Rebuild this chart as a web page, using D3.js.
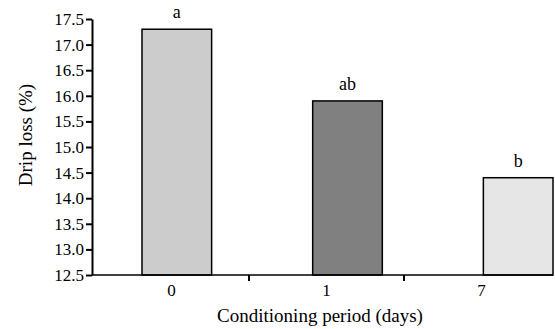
<!DOCTYPE html>
<html>
<head>
<meta charset="utf-8">
<script src="https://cdn.jsdelivr.net/npm/d3@7"></script>
<style>
  body { margin: 0; background: #fff; }
  svg text { font-family: "Liberation Serif", "Times New Roman", serif; fill: #000; }
</style>
</head>
<body>
<div id="chart"></div>
<script>
// chart data
const periods = ["0", "1", "7"];
const dripLoss = [17.3, 15.9, 14.4];
const letters = ["a", "ab", "b"];
const barColors = ["#cccccc", "#808080", "#e6e6e6"];
const yTicks = [12.5, 13.0, 13.5, 14.0, 14.5, 15.0, 15.5, 16.0, 16.5, 17.0, 17.5];

const width = 555, height = 329;
const plotLeft = 92, plotTop = 19, plotBottom = 275;

const svg = d3.select("#chart").append("svg")
  .attr("width", width)
  .attr("height", height);

const y = d3.scaleLinear()
  .domain([12.5, 17.5])
  .range([plotBottom, plotTop]);

// bars sit on their own band scale, axis labels/ticks on another
const xBar = d3.scaleBand()
  .domain(periods)
  .range([142, 553])
  .paddingInner(0.592)
  .paddingOuter(0);

const xAxisScale = d3.scaleBand()
  .domain(periods)
  .range([94, 559]);

// bars
svg.append("g")
  .selectAll("rect")
  .data(periods)
  .enter().append("rect")
    .attr("x", d => xBar(d))
    .attr("y", (d, i) => y(dripLoss[i]))
    .attr("width", xBar.bandwidth())
    .attr("height", (d, i) => plotBottom - y(dripLoss[i]))
    .attr("fill", (d, i) => barColors[i])
    .attr("stroke", "#000")
    .attr("stroke-width", 1.5);

// significance letters
svg.append("g")
  .selectAll("text")
  .data(periods)
  .enter().append("text")
    .attr("x", d => xBar(d) + xBar.bandwidth() / 2)
    .attr("y", (d, i) => y(dripLoss[i]) - 11)
    .attr("text-anchor", "middle")
    .style("font-size", "18px")
    .text((d, i) => letters[i]);

// y axis
const yAxis = svg.append("g")
  .attr("transform", "translate(" + plotLeft + ",0)")
  .call(d3.axisLeft(y).tickValues(yTicks).tickFormat(d3.format(".1f")).tickSize(6).tickSizeOuter(0).tickPadding(2));
yAxis.select(".domain").attr("stroke-width", 2);
yAxis.selectAll(".tick line").attr("stroke-width", 2);
yAxis.selectAll(".tick text").style("font-size", "17px").style("font-family", "Liberation Serif");

// x axis: baseline, tick marks between categories, labels
svg.append("line")
  .attr("x1", plotLeft).attr("x2", 553)
  .attr("y1", plotBottom).attr("y2", plotBottom)
  .attr("stroke", "#000").attr("stroke-width", 1.5);

svg.append("g")
  .selectAll("line")
  .data(periods.slice(1))
  .enter().append("line")
    .attr("x1", d => xAxisScale(d)).attr("x2", d => xAxisScale(d))
    .attr("y1", plotBottom).attr("y2", plotBottom + 6)
    .attr("stroke", "#000").attr("stroke-width", 2);

svg.append("g")
  .selectAll("text")
  .data(periods)
  .enter().append("text")
    .attr("x", d => xAxisScale(d) + xAxisScale.bandwidth() / 2)
    .attr("y", plotBottom + 21)
    .attr("text-anchor", "middle")
    .style("font-size", "17px")
    .text(d => d);

// axis titles
svg.append("text")
  .attr("x", 320)
  .attr("y", 322)
  .attr("text-anchor", "middle")
  .style("font-size", "19px")
  .text("Conditioning period (days)");

svg.append("text")
  .attr("transform", "translate(32,135) rotate(-90)")
  .attr("text-anchor", "middle")
  .style("font-size", "19px")
  .text("Drip loss (%)");
</script>
</body>
</html>
